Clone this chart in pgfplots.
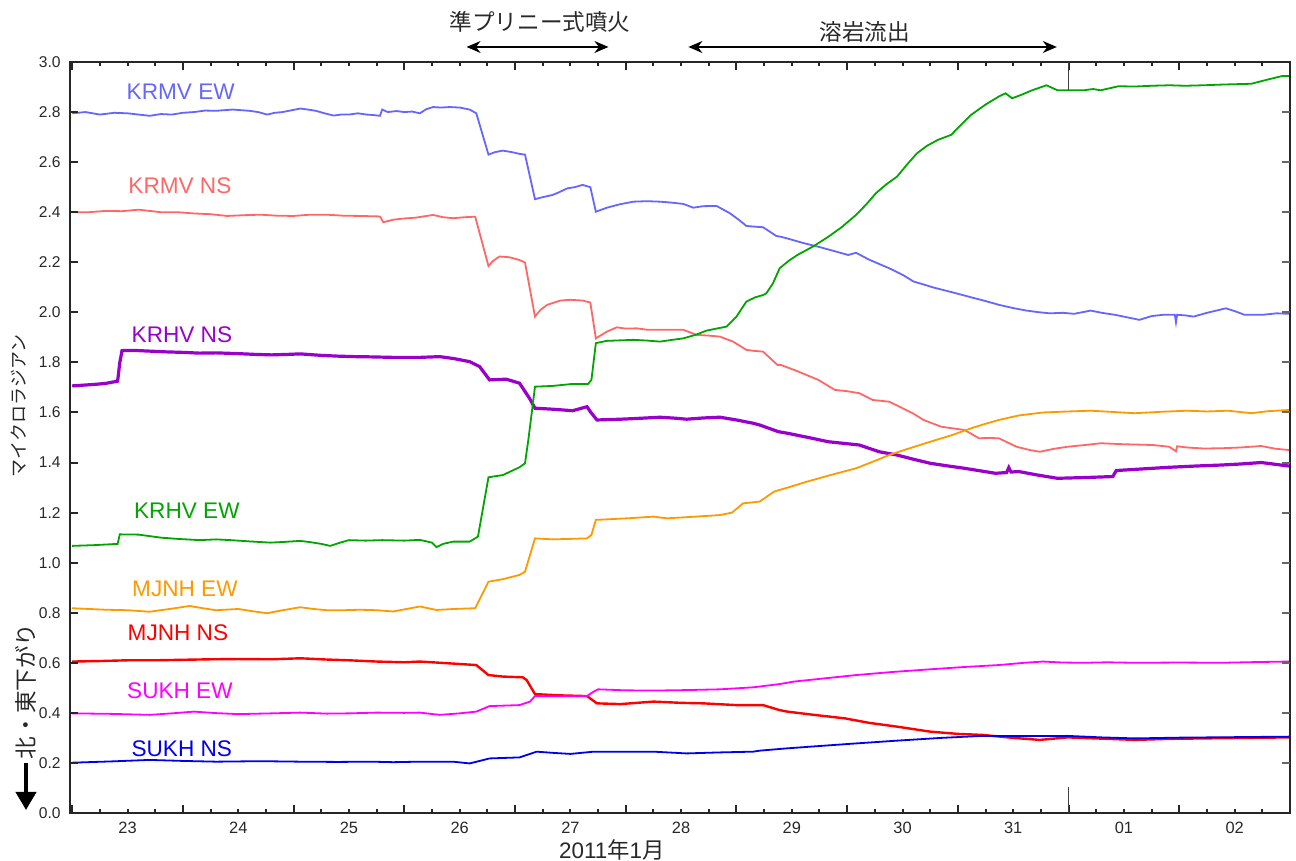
\documentclass[border=0pt]{standalone}
\usepackage{pgfplots}
\pgfplotsset{compat=1.18}
\usepackage{fontspec}
\setmainfont{Liberation Sans}
\newfontfamily\cjk{Noto Sans CJK JP}
\usetikzlibrary{arrows.meta}
\definecolor{krmvew}{RGB}{102,102,255}
\definecolor{krmvns}{RGB}{255,102,102}
\definecolor{krhvns}{RGB}{153,0,204}
\definecolor{krhvew}{RGB}{0,165,0}
\definecolor{mjnhew}{RGB}{255,153,0}
\definecolor{mjnhns}{RGB}{255,0,0}
\definecolor{sukhew}{RGB}{255,0,255}
\definecolor{sukhns}{RGB}{0,0,238}
\definecolor{txt}{RGB}{40,40,40}
\begin{document}
\begin{tikzpicture}
\useasboundingbox (-35pt,-24pt) rectangle (613pt,406.5pt);
\begin{axis}[
  scale only axis, width=610pt, height=375.5pt,
  at={(0pt,0pt)}, anchor=south west,
  xmin=22.98, xmax=34, ymin=0, ymax=3,
  clip=false,
  xtick={23,24,25,26,27,28,29,30,31,32,33,34},
  x tick label as interval,
  xticklabels={23,24,25,26,27,28,29,30,31,01,02},
  ytick={0,0.2,0.4,0.6,0.8,1,1.2,1.4,1.6,1.8,2,2.2,2.4,2.6,2.8,3},
  yticklabel style={/pgf/number format/fixed, /pgf/number format/fixed zerofill, /pgf/number format/precision=1, xshift=-1.2pt},
  /pgf/number format/assume math mode=true,
  tick label style={font=\fontsize{7.8}{9}\selectfont, text=txt},
  xticklabel style={font=\fontsize{8.2}{9}\selectfont, yshift=-1pt},
  tick align=inside,
  major tick length=4.2pt, minor tick length=2.2pt,
  tick style={draw=black!85, line width=1pt},
  axis line style={line width=0.9pt, draw=black!85},
]
% KRMV EW
\addplot[color=krmvew, line width=0.9pt] coordinates {
(23.00,2.795) (23.12,2.80) (23.25,2.79) (23.38,2.797) (23.5,2.795) (23.6,2.79) (23.70,2.785) (23.8,2.792) (23.9,2.79) (24.0,2.797) (24.1,2.80) (24.2,2.806) (24.3,2.805) (24.45,2.81) (24.6,2.805) (24.68,2.80) (24.76,2.79) (24.83,2.797) (24.9,2.80) (25.06,2.814) (25.13,2.81) (25.2,2.805) (25.28,2.795) (25.36,2.786) (25.43,2.79) (25.5,2.79) (25.58,2.795) (25.66,2.79) (25.72,2.788) (25.78,2.785) (25.80,2.81) (25.85,2.80) (25.93,2.804) (26.0,2.80) (26.07,2.802) (26.14,2.795) (26.2,2.812) (26.26,2.82) (26.33,2.818) (26.41,2.82) (26.5,2.818) (26.59,2.81) (26.65,2.795) (26.76,2.63) (26.82,2.64) (26.89,2.646) (26.97,2.64) (27.04,2.633) (27.09,2.63) (27.18,2.452) (27.25,2.46) (27.34,2.469) (27.4,2.48) (27.47,2.495) (27.54,2.50) (27.61,2.509) (27.68,2.50) (27.73,2.402) (27.83,2.418) (27.95,2.432) (28.07,2.442) (28.19,2.444) (28.31,2.442) (28.42,2.438) (28.52,2.433) (28.61,2.418) (28.7,2.424) (28.82,2.425) (28.94,2.396) (29.02,2.37) (29.09,2.345) (29.17,2.342) (29.24,2.34) (29.36,2.305) (29.40,2.302) (29.5,2.29) (29.61,2.276) (29.74,2.262) (29.88,2.245) (30.01,2.229) (30.08,2.238) (30.2,2.21) (30.38,2.176) (30.5,2.15) (30.60,2.123) (30.7,2.11) (30.78,2.099) (30.95,2.08) (31.12,2.06) (31.25,2.045) (31.37,2.03) (31.5,2.017) (31.62,2.007) (31.72,2.001) (31.83,1.996) (31.95,1.998) (32.05,1.994) (32.2,2.007) (32.3,1.998) (32.42,1.99) (32.53,1.98) (32.64,1.97) (32.75,1.985) (32.85,1.99) (32.96,1.99) (32.97,1.96) (32.98,1.99) (33.05,1.988) (33.13,1.983) (33.25,1.998) (33.42,2.016) (33.5,2.005) (33.59,1.99) (33.75,1.99) (33.88,1.996) (33.99,1.994)
};
% KRMV NS
\addplot[color=krmvns, line width=0.9pt] coordinates {
(23.0,2.40) (23.15,2.40) (23.3,2.405) (23.45,2.404) (23.6,2.41) (23.7,2.405) (23.8,2.40) (23.95,2.40) (24.1,2.395) (24.25,2.392) (24.4,2.385) (24.55,2.388) (24.7,2.39) (24.85,2.386) (25.0,2.385) (25.15,2.39) (25.3,2.39) (25.45,2.386) (25.6,2.385) (25.78,2.383) (25.81,2.36) (25.9,2.37) (26.0,2.375) (26.1,2.378) (26.26,2.389) (26.35,2.38) (26.44,2.376) (26.55,2.38) (26.64,2.382) (26.76,2.185) (26.8,2.205) (26.86,2.223) (26.95,2.22) (27.04,2.209) (27.09,2.199) (27.18,1.983) (27.23,2.01) (27.29,2.03) (27.41,2.047) (27.5,2.05) (27.61,2.047) (27.68,2.039) (27.73,1.896) (27.83,1.923) (27.92,1.94) (28.0,1.935) (28.10,1.936) (28.2,1.93) (28.31,1.93) (28.42,1.93) (28.52,1.93) (28.64,1.91) (28.75,1.907) (28.85,1.903) (28.97,1.883) (29.09,1.85) (29.16,1.846) (29.24,1.843) (29.37,1.79) (29.40,1.79) (29.55,1.765) (29.74,1.73) (29.89,1.69) (30.0,1.685) (30.11,1.677) (30.23,1.65) (30.38,1.643) (30.50,1.617) (30.6,1.595) (30.69,1.57) (30.85,1.543) (31.06,1.53) (31.19,1.497) (31.28,1.498) (31.37,1.497) (31.53,1.463) (31.65,1.45) (31.74,1.443) (31.87,1.455) (31.99,1.463) (32.15,1.47) (32.29,1.477) (32.5,1.473) (32.76,1.47) (32.91,1.463) (32.97,1.445) (32.98,1.465) (33.07,1.46) (33.22,1.456) (33.38,1.457) (33.55,1.46) (33.74,1.466) (33.87,1.455) (33.99,1.45)
};
% KRHV NS
\addplot[color=krhvns, line width=1.6pt] coordinates {
(23.0,1.706) (23.1,1.709) (23.2,1.712) (23.3,1.716) (23.41,1.725) (23.43,1.80) (23.45,1.847) (23.55,1.848) (23.7,1.845) (23.85,1.842) (24.0,1.84) (24.15,1.837) (24.3,1.838) (24.5,1.835) (24.65,1.832) (24.8,1.83) (24.95,1.832) (25.06,1.834) (25.25,1.828) (25.4,1.825) (25.55,1.823) (25.7,1.822) (25.9,1.82) (26.14,1.82) (26.32,1.823) (26.45,1.815) (26.59,1.803) (26.68,1.783) (26.77,1.73) (26.92,1.733) (27.04,1.717) (27.13,1.657) (27.18,1.617) (27.34,1.613) (27.52,1.607) (27.65,1.623) (27.68,1.603) (27.74,1.57) (27.95,1.573) (28.1,1.576) (28.31,1.581) (28.45,1.577) (28.55,1.573) (28.7,1.578) (28.85,1.581) (29.0,1.57) (29.15,1.557) (29.21,1.55) (29.38,1.523) (29.46,1.517) (29.65,1.5) (29.83,1.483) (30.11,1.47) (30.29,1.443) (30.45,1.43) (30.6,1.413) (30.75,1.397) (30.9,1.387) (31.06,1.377) (31.2,1.367) (31.34,1.357) (31.44,1.36) (31.46,1.38) (31.48,1.362) (31.55,1.364) (31.72,1.35) (31.90,1.337) (32.15,1.34) (32.40,1.344) (32.43,1.368) (32.65,1.374) (32.91,1.381) (33.15,1.386) (33.38,1.39) (33.55,1.394) (33.74,1.40) (33.99,1.386)
};
% KRHV EW
\addplot[color=krhvew, line width=0.9pt] coordinates {
(23.0,1.067) (23.2,1.07) (23.41,1.075) (23.43,1.113) (23.6,1.112) (23.8,1.10) (23.95,1.095) (24.15,1.09) (24.3,1.093) (24.43,1.09) (24.6,1.085) (24.79,1.08) (24.92,1.083) (25.06,1.087) (25.15,1.082) (25.25,1.075) (25.33,1.067) (25.42,1.08) (25.5,1.09) (25.65,1.088) (25.8,1.09) (26.0,1.088) (26.14,1.091) (26.25,1.08) (26.29,1.062) (26.35,1.075) (26.44,1.084) (26.59,1.084) (26.665,1.104) (26.76,1.341) (26.89,1.35) (27.04,1.381) (27.09,1.397) (27.12,1.49) (27.18,1.703) (27.34,1.706) (27.52,1.714) (27.66,1.714) (27.69,1.73) (27.73,1.877) (27.83,1.886) (27.95,1.888) (28.07,1.89) (28.2,1.887) (28.31,1.883) (28.42,1.89) (28.52,1.896) (28.63,1.91) (28.73,1.927) (28.82,1.935) (28.91,1.943) (29.0,1.983) (29.09,2.043) (29.17,2.06) (29.24,2.069) (29.27,2.076) (29.33,2.116) (29.37,2.156) (29.39,2.176) (29.47,2.205) (29.55,2.229) (29.7,2.265) (29.83,2.302) (29.95,2.34) (30.08,2.389) (30.17,2.43) (30.26,2.476) (30.35,2.51) (30.45,2.542) (30.54,2.59) (30.63,2.635) (30.72,2.665) (30.82,2.689) (30.94,2.709) (31.03,2.75) (31.12,2.789) (31.25,2.83) (31.37,2.862) (31.43,2.875) (31.49,2.855) (31.58,2.87) (31.67,2.887) (31.80,2.907) (31.90,2.887) (32.0,2.887) (32.14,2.887) (32.22,2.892) (32.29,2.887) (32.45,2.903) (32.6,2.902) (32.75,2.905) (32.91,2.907) (33.05,2.905) (33.22,2.907) (33.4,2.91) (33.65,2.913) (33.8,2.93) (33.93,2.944) (33.99,2.944)
};
% MJNH EW
\addplot[color=mjnhew, line width=0.9pt] coordinates {
(23.0,0.818) (23.15,0.815) (23.3,0.812) (23.5,0.81) (23.70,0.804) (23.88,0.815) (24.06,0.827) (24.18,0.818) (24.3,0.81) (24.5,0.815) (24.63,0.806) (24.76,0.798) (24.9,0.81) (25.06,0.822) (25.18,0.815) (25.3,0.81) (25.45,0.81) (25.6,0.812) (25.75,0.81) (25.9,0.805) (26.02,0.815) (26.14,0.825) (26.29,0.811) (26.45,0.815) (26.64,0.818) (26.76,0.924) (26.89,0.934) (27.04,0.951) (27.09,0.964) (27.18,1.097) (27.34,1.093) (27.5,1.095) (27.65,1.097) (27.69,1.111) (27.73,1.171) (27.83,1.173) (28.05,1.178) (28.25,1.184) (28.37,1.177) (28.6,1.183) (28.85,1.19) (28.96,1.20) (29.06,1.237) (29.21,1.244) (29.34,1.284) (29.5,1.305) (29.64,1.324) (29.85,1.35) (30.08,1.377) (30.23,1.403) (30.38,1.43) (30.55,1.455) (30.75,1.483) (30.95,1.51) (31.12,1.537) (31.25,1.555) (31.37,1.57) (31.55,1.588) (31.77,1.60) (32.0,1.604) (32.2,1.607) (32.4,1.602) (32.6,1.597) (32.85,1.603) (33.07,1.607) (33.25,1.604) (33.44,1.607) (33.65,1.597) (33.8,1.605) (33.99,1.61)
};
% MJNH NS
\addplot[color=mjnhns, line width=1.2pt] coordinates {
(23.0,0.605) (23.25,0.607) (23.5,0.61) (23.75,0.61) (24.0,0.612) (24.25,0.614) (24.5,0.615) (24.8,0.614) (25.06,0.618) (25.3,0.613) (25.5,0.61) (25.75,0.605) (26.0,0.602) (26.14,0.605) (26.4,0.598) (26.65,0.591) (26.76,0.551) (26.89,0.545) (27.07,0.542) (27.105,0.531) (27.18,0.475) (27.4,0.47) (27.65,0.467) (27.74,0.438) (27.95,0.435) (28.1,0.44) (28.25,0.445) (28.5,0.44) (28.70,0.438) (29.0,0.431) (29.24,0.431) (29.39,0.411) (29.46,0.405) (29.7,0.392) (29.98,0.378) (30.2,0.36) (30.45,0.345) (30.75,0.325) (31.0,0.316) (31.22,0.312) (31.5,0.3) (31.74,0.292) (31.99,0.302) (32.3,0.297) (32.60,0.292) (32.9,0.296) (33.22,0.298) (33.6,0.3) (33.99,0.302)
};
% SUKH EW
\addplot[color=sukhew, line width=0.9pt] coordinates {
(23.0,0.398) (23.35,0.396) (23.7,0.392) (23.9,0.398) (24.1,0.405) (24.3,0.399) (24.5,0.395) (24.8,0.398) (25.06,0.401) (25.3,0.397) (25.5,0.398) (25.75,0.401) (26.0,0.40) (26.14,0.401) (26.32,0.392) (26.5,0.398) (26.65,0.405) (26.77,0.427) (27.04,0.431) (27.135,0.445) (27.18,0.467) (27.4,0.466) (27.65,0.467) (27.71,0.485) (27.75,0.494) (28.0,0.49) (28.25,0.489) (28.55,0.491) (28.85,0.494) (29.15,0.502) (29.39,0.515) (29.52,0.525) (29.8,0.538) (30.08,0.551) (30.4,0.563) (30.75,0.574) (31.05,0.583) (31.37,0.591) (31.6,0.60) (31.77,0.605) (31.95,0.601) (32.14,0.60) (32.35,0.602) (32.6,0.60) (33.0,0.601) (33.38,0.60) (33.7,0.603) (33.99,0.605)
};
% SUKH NS
\addplot[color=sukhns, line width=0.9pt] coordinates {
(23.0,0.201) (23.35,0.206) (23.7,0.212) (24.0,0.208) (24.3,0.205) (24.7,0.207) (25.06,0.205) (25.4,0.204) (25.7,0.205) (25.9,0.203) (26.14,0.205) (26.44,0.205) (26.59,0.198) (26.77,0.218) (27.04,0.222) (27.195,0.245) (27.35,0.24) (27.50,0.236) (27.71,0.245) (28.0,0.245) (28.25,0.245) (28.55,0.238) (28.85,0.242) (29.15,0.245) (29.21,0.249) (29.45,0.258) (29.67,0.265) (30.05,0.277) (30.45,0.289) (30.85,0.3) (31.22,0.308) (31.6,0.307) (31.99,0.308) (32.3,0.302) (32.6,0.298) (33.0,0.301) (33.5,0.303) (33.99,0.305)
};
% tick marks (axis decoration), drawn between axis-cs end points
\pgfplotsinvokeforeach{23,24,25,26,27,28,29,30,31,33}{
  \draw[line width=1pt, color=black!85] (axis cs:#1,0) -- (axis cs:#1,0.0336);
  \draw[line width=1pt, color=black!85] (axis cs:#1,3) -- (axis cs:#1,2.9664);
}
\pgfplotsinvokeforeach{23.25,23.5,23.75,24.25,24.5,24.75,25.25,25.5,25.75,26.25,26.5,26.75,27.25,27.5,27.75,28.25,28.5,28.75,29.25,29.5,29.75,30.25,30.5,30.75,31.25,31.5,31.75,32.25,32.5,32.75,33.25,33.5,33.75}{
  \draw[line width=1pt, color=black!85] (axis cs:#1,0) -- (axis cs:#1,0.0176);
  \draw[line width=1pt, color=black!85] (axis cs:#1,3) -- (axis cs:#1,2.9824);
}
\pgfplotsinvokeforeach{0.2,0.4,0.6,0.8,1,1.2,1.4,1.6,1.8,2,2.2,2.4,2.6,2.8}{
  \draw[line width=1pt, color=black!85] (axis cs:22.98,#1) -- (axis cs:23.056,#1);
  \draw[line width=1pt, color=black!60] (axis cs:34,#1) -- (axis cs:33.924,#1);
}
% long month ticks
\draw[line width=0.8pt, color=black!75] (axis cs:32,0) -- (axis cs:32,0.105);
\draw[line width=0.8pt, color=black!75] (axis cs:32,3) -- (axis cs:32,2.887);
% series labels
\begin{scope}[every node/.style={font=\fontsize{11.3}{13}\selectfont, inner sep=0pt}]
\node[text=krmvew] at (axis cs:23.98,2.881) {KRMV EW};
\node[text=krmvns] at (axis cs:23.973,2.505) {KRMV NS};
\node[text=krhvns] at (axis cs:23.991,1.91) {KRHV NS};
\node[text=krhvew] at (axis cs:24.036,1.207) {KRHV EW};
\node[text=mjnhew] at (axis cs:24.018,0.897) {MJNH EW};
\node[text=mjnhns] at (axis cs:23.955,0.721) {MJNH NS};
\node[text=sukhew] at (axis cs:23.973,0.487) {SUKH EW};
\node[text=sukhns] at (axis cs:23.99,0.257) {SUKH NS};
\end{scope}
\end{axis}
% annotations
\node[font=\cjk\fontsize{11.3}{13}\selectfont, text=txt] at (235pt,395.3pt) {準プリニー式噴火};
\node[font=\cjk\fontsize{11.3}{13}\selectfont, text=txt] at (397.3pt,390.6pt) {溶岩流出};
\draw[line width=0.6pt, color=black, {Stealth[length=7pt,width=6pt]}-{Stealth[length=7pt,width=6pt]}] (198.3pt,383pt) -- (269.2pt,383pt);
\draw[line width=0.6pt, color=black, {Stealth[length=7pt,width=6pt]}-{Stealth[length=7pt,width=6pt]}] (309.2pt,383pt) -- (493.4pt,383pt);
\node[font=\fontsize{11.2}{13}\selectfont, text=txt] at (270.9pt,-18.5pt) {2011{\cjk 年}1{\cjk 月}};
\node[rotate=90, font=\cjk\fontsize{9}{10}\selectfont, text=txt] at (-25.5pt,203.5pt) {マイクロラジアン};
\node[rotate=90, font=\cjk\fontsize{11.3}{12}\selectfont, text=txt] at (-22pt,60.8pt) {北・東下がり};
\draw[line width=2pt, color=black, -{Triangle[length=9pt,width=10pt]}] (-22pt,25pt) -- (-22pt,1.5pt);
\end{tikzpicture}
\end{document}
